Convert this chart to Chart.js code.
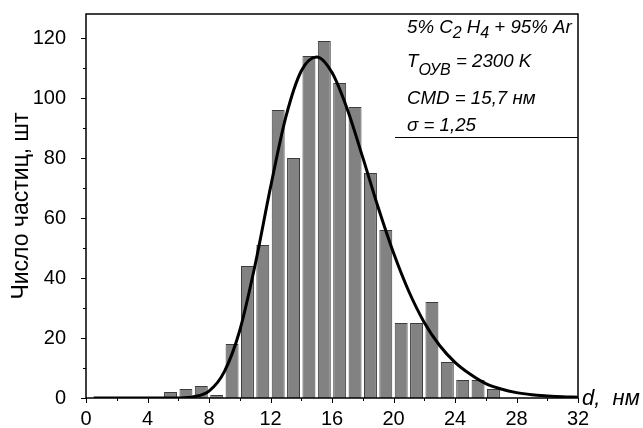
<!DOCTYPE html>
<html>
<head>
<meta charset="utf-8">
<script src="https://cdn.jsdelivr.net/npm/chart.js@4.4.1/dist/chart.umd.min.js"></script>
<style>
  html, body { margin: 0; padding: 0; background: #fff; }
</style>
</head>
<body>
<canvas id="chart" width="643" height="428"></canvas>
<script>
// particle size histogram, 1 nm bins (left edge of each bin)
const binStart = [5, 6, 7, 8, 9, 10, 11, 12, 13, 14, 15, 16, 17, 18, 19, 20, 21, 22, 23, 24, 25, 26];
const counts   = [2, 3, 4, 1, 18, 44, 51, 96, 80, 114, 119, 105, 97, 75, 56, 25, 25, 32, 12, 6, 6, 3];

// lognormal fit (CMD = 15.7 nm, sigma = 1.25)
const fitD = [0.5, 1, 2, 3, 4, 5, 6, 7, 8, 9, 10, 11, 12, 13, 14, 15, 16, 17, 18, 19, 20, 21, 22, 23, 24, 25, 26, 27, 28, 29, 30, 31, 32];
const fitN = [0, 0, 0, 0, 0, 0, 0.03, 0.4, 2.3, 8.8, 22.5, 44.4, 70.2, 93.7, 109, 113.7, 108.5, 96.2, 80.2, 63.6, 48.4, 35.5, 25.2, 17.5, 11.9, 7.9, 4.8, 3.0, 1.8, 1.1, 0.7, 0.4, 0.25];

// axis ticks
const xTicks = [0, 4, 8, 12, 16, 20, 24, 28, 32];
const xMinor = [2, 6, 10, 14, 18, 22, 26, 30];
const yTicks = [0, 20, 40, 60, 80, 100, 120];
const yMinor = [10, 30, 50, 70, 90, 110];

const FONT = "'Liberation Sans', Arial, sans-serif";

// frame, tick marks, axis name and the parameter box
const frame = {
    id: 'frame',
    afterDatasetsDraw(chart) {
        const ctx = chart.ctx;
        const a = chart.chartArea;
        const xs = chart.scales.x, ys = chart.scales.y;
        ctx.save();
        ctx.strokeStyle = '#000';

        ctx.lineWidth = 1;
        ctx.beginPath();
        xTicks.forEach(v => { const p = Math.round(xs.getPixelForValue(v)) + 0.5; ctx.moveTo(p, a.bottom); ctx.lineTo(p, a.bottom + 5); });
        xMinor.forEach(v => { const p = Math.round(xs.getPixelForValue(v)) + 0.5; ctx.moveTo(p, a.bottom); ctx.lineTo(p, a.bottom + 3); });
        yTicks.forEach(v => { const p = Math.round(ys.getPixelForValue(v)) + 0.5; ctx.moveTo(a.left, p); ctx.lineTo(a.left - 5, p); });
        yMinor.forEach(v => { const p = Math.round(ys.getPixelForValue(v)) + 0.5; ctx.moveTo(a.left, p); ctx.lineTo(a.left - 3, p); });
        ctx.stroke();

        ctx.lineWidth = 1.5;
        ctx.strokeRect(a.left, a.top, a.right - a.left, a.bottom - a.top);

        // x axis name at the end of the axis
        ctx.fillStyle = '#000';
        ctx.textBaseline = 'alphabetic';
        ctx.textAlign = 'left';
        ctx.font = 'italic 22px ' + FONT;
        ctx.fillText('d,  нм', a.right + 4, a.bottom + 7);

        // parameter box
        const x0 = 407;
        const lines = [
            { y: 33, parts: [['5% C'], ['2', 5], [' H'], ['4', 5], [' + 95% Ar']] },
            { y: 67, parts: [['T'], ['ОУВ', 8], [' = 2300 K']] },
            { y: 104, parts: [['CMD = 15,7 нм']] },
            { y: 131, parts: [['σ = 1,25']] }
        ];
        lines.forEach(line => {
            let x = x0;
            line.parts.forEach(([t, sub]) => {
                ctx.font = sub ? 'italic 16px ' + FONT : 'italic 18.7px ' + FONT;
                ctx.fillText(t, x, line.y + (sub || 0));
                x += ctx.measureText(t).width;
            });
        });
        ctx.lineWidth = 1;
        ctx.beginPath();
        ctx.moveTo(395, 137.5);
        ctx.lineTo(a.right, 137.5);
        ctx.stroke();
        ctx.restore();
    }
};

// keep label overflow from shifting the plot area
function noScalePadding(s) {
    s.paddingTop = 0;
    s.paddingBottom = 0;
    s.paddingLeft = 0;
    s.paddingRight = 0;
}

new Chart(document.getElementById('chart'), {
    type: 'bar',
    data: {
        datasets: [{
            type: 'line',
            data: fitD.map((d, i) => ({ x: d, y: fitN[i] })),
            borderColor: '#000',
            borderWidth: 3,
            pointRadius: 0,
            fill: false,
            cubicInterpolationMode: 'monotone',
            order: 0
        }, {
            type: 'bar',
            data: binStart.map((b, i) => ({ x: b + 0.5, y: counts[i] })),
            backgroundColor: '#828282',
            borderColor: '#3c3c3c',
            borderWidth: 1,
            barPercentage: 0.84,
            categoryPercentage: 1,
            order: 1
        }]
    },
    options: {
        responsive: false,
        animation: false,
        devicePixelRatio: 1,
        layout: { padding: { top: 14, right: 65, left: 0, bottom: 0 } },
        plugins: {
            legend: { display: false },
            tooltip: { enabled: false }
        },
        scales: {
            x: {
                type: 'linear',
                min: 0,
                max: 32,
                offset: false,
                afterFit: s => { s.height = 30; noScalePadding(s); },
                afterBuildTicks: s => { s.ticks = xTicks.map(v => ({ value: v })); },
                grid: { display: false },
                border: { display: false },
                ticks: {
                    autoSkip: false,
                    maxRotation: 0,
                    padding: 1,
                    color: '#000',
                    font: { family: FONT, size: 20 }
                }
            },
            y: {
                min: 0,
                max: 128,
                afterFit: s => { s.width = 86; noScalePadding(s); },
                afterBuildTicks: s => { s.ticks = yTicks.map(v => ({ value: v })); },
                grid: { display: false },
                border: { display: false },
                ticks: {
                    padding: 12,
                    color: '#000',
                    font: { family: FONT, size: 20 }
                },
                title: {
                    display: true,
                    text: 'Число частиц, шт',
                    color: '#000',
                    font: { family: FONT, size: 23 },
                    padding: { top: 8, bottom: 0 }
                }
            }
        }
    },
    plugins: [frame]
});
</script>
</body>
</html>
